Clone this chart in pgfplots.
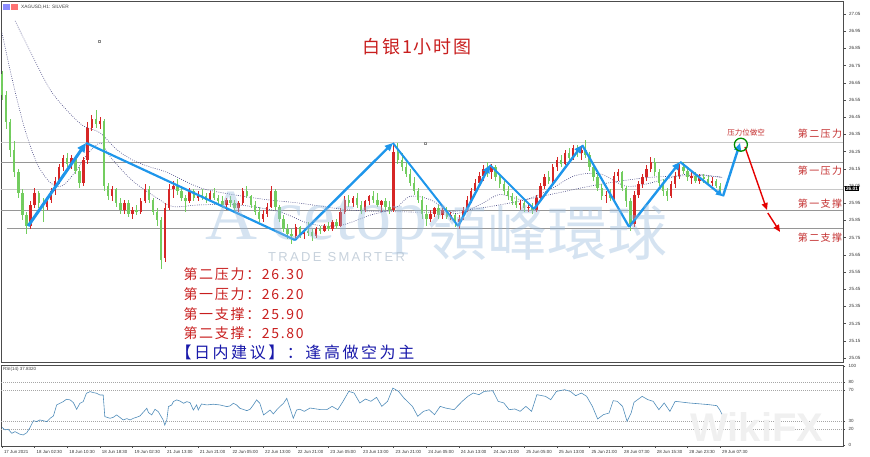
\documentclass[border=0pt]{standalone}
\usepackage{fontspec}
\setmainfont{Liberation Sans}
\newfontfamily\cjk{Noto Sans CJK SC}
\newfontfamily\cjkls[LetterSpace=12]{Noto Sans CJK SC}
\newfontfamily\cjkwide[LetterSpace=16]{Noto Sans CJK SC}
\newfontfamily\cjktitle[LetterSpace=10]{Noto Sans CJK SC}
\newfontfamily\cjkside[LetterSpace=14]{Noto Sans CJK SC}
\newfontfamily\cjktc{Noto Sans CJK TC}
\newfontfamily\wmserif{Liberation Serif}
\newfontfamily\wmsans[LetterSpace=18]{Liberation Sans}
\usepackage{pgfplots}
\usepackage{pgfplotstable}
\pgfplotsset{compat=1.18}
\usetikzlibrary{arrows.meta}

\definecolor{candleup}{RGB}{214,38,38}
\definecolor{candledn}{RGB}{115,205,95}
\definecolor{zig}{RGB}{30,150,235}
\definecolor{lvl}{RGB}{150,150,150}
\definecolor{lvllight}{RGB}{200,200,200}
\definecolor{ma}{RGB}{70,70,130}
\definecolor{rsiline}{RGB}{80,140,185}
\definecolor{txtred}{RGB}{200,30,30}
\definecolor{lblred}{RGB}{195,45,45}
\definecolor{txtblue}{RGB}{25,25,170}
\definecolor{wm}{RGB}{150,185,220}
\definecolor{wmgray}{RGB}{175,190,205}

% hourly silver candles: bar index, open, high, low, close
\pgfplotstableread{
i o h l c
0 26.70 26.72 26.55 26.58
1 26.58 26.60 26.38 26.42
2 26.42 26.44 26.22 26.26
3 26.26 26.31 26.10 26.13
4 26.13 26.15 25.98 26.01
5 26.01 26.03 25.85 25.88
6 25.88 25.90 25.77 25.82
7 25.82 25.96 25.80 25.94
8 25.94 26.04 25.92 26.01
9 26.01 26.02 25.92 25.95
10 25.95 25.98 25.84 25.93
11 25.93 25.99 25.91 25.97
12 25.97 26.04 25.95 26.02
13 26.02 26.10 26.00 26.08
14 26.08 26.18 26.06 26.16
15 26.16 26.23 26.14 26.21
16 26.21 26.24 26.16 26.18
17 26.18 26.23 26.15 26.21
18 26.21 26.22 26.12 26.14
19 26.14 26.16 26.04 26.07
20 26.07 26.22 26.05 26.20
21 26.20 26.42 26.18 26.39
22 26.39 26.46 26.37 26.44
23 26.44 26.49 26.39 26.41
24 26.41 26.45 26.38 26.43
25 26.43 26.44 26.02 26.05
26 26.05 26.07 25.97 25.99
27 25.99 26.05 25.96 26.03
28 26.03 26.04 25.93 25.95
29 25.95 25.98 25.89 25.91
30 25.91 25.97 25.89 25.95
31 25.95 25.97 25.87 25.89
32 25.89 25.93 25.86 25.91
33 25.91 25.94 25.88 25.90
34 25.90 25.98 25.89 25.96
35 25.96 26.06 25.95 26.03
36 26.03 26.05 25.95 25.97
37 25.97 25.98 25.88 25.90
38 25.90 25.92 25.82 25.85
39 25.85 25.87 25.57 25.62
40 25.63 25.95 25.61 25.92
41 25.92 26.06 25.91 26.03
42 26.03 26.08 25.98 26.05
43 26.05 26.09 26.00 26.02
44 26.02 26.05 25.96 25.98
45 25.98 26.00 25.90 25.96
46 25.96 26.04 25.95 26.02
47 26.02 26.03 25.96 25.98
48 25.98 26.02 25.96 26.00
49 26.00 26.03 25.97 25.99
50 25.99 26.01 25.95 25.97
51 25.97 26.02 25.96 26.01
52 26.01 26.04 25.97 25.98
53 25.98 26.00 25.94 25.96
54 25.96 25.99 25.92 25.94
55 25.94 25.98 25.91 25.97
56 25.97 25.99 25.93 25.95
57 25.95 25.97 25.90 25.92
58 25.92 25.96 25.90 25.95
59 25.95 26.04 25.94 26.02
60 26.02 26.05 25.98 25.99
61 25.99 26.00 25.92 25.94
62 25.94 25.96 25.88 25.90
63 25.90 25.93 25.84 25.86
64 25.86 25.91 25.84 25.89
65 25.89 25.95 25.87 25.93
66 25.93 26.05 25.92 26.02
67 26.02 26.03 25.91 25.93
68 25.93 25.94 25.84 25.86
69 25.86 25.88 25.78 25.80
70 25.80 25.83 25.74 25.77
71 25.77 25.80 25.71 25.76
72 25.76 25.83 25.74 25.81
73 25.81 25.82 25.75 25.77
74 25.77 25.80 25.74 25.79
75 25.79 25.84 25.76 25.78
76 25.78 25.80 25.73 25.76
77 25.76 25.81 25.75 25.80
78 25.80 25.82 25.77 25.79
79 25.79 25.83 25.78 25.82
80 25.82 25.84 25.79 25.80
81 25.80 25.85 25.79 25.84
82 25.84 25.86 25.80 25.82
83 25.82 25.92 25.81 25.90
84 25.90 25.99 25.89 25.97
85 25.97 26.00 25.93 25.95
86 25.95 25.99 25.93 25.98
87 25.98 26.01 25.92 25.94
88 25.94 25.96 25.89 25.91
89 25.91 25.97 25.90 25.96
90 25.96 26.00 25.94 25.99
91 25.99 26.02 25.95 25.97
92 25.97 26.01 25.93 25.94
93 25.94 25.97 25.90 25.96
94 25.96 25.98 25.91 25.93
95 25.93 25.96 25.89 25.91
96 25.91 26.29 25.90 26.25
97 26.25 26.30 26.18 26.20
98 26.20 26.24 26.14 26.16
99 26.16 26.19 26.10 26.12
100 26.12 26.15 26.05 26.07
101 26.07 26.10 26.00 26.02
102 26.02 26.04 25.95 25.97
103 25.97 25.99 25.86 25.89
104 25.89 25.94 25.82 25.86
105 25.86 25.91 25.84 25.89
106 25.89 25.93 25.87 25.92
107 25.92 25.94 25.86 25.88
108 25.88 25.92 25.86 25.91
109 25.91 25.93 25.86 25.87
110 25.87 25.90 25.85 25.88
111 25.88 25.89 25.81 25.84
112 25.84 25.88 25.80 25.86
113 25.86 25.93 25.85 25.91
114 25.91 25.99 25.90 25.97
115 25.97 26.04 25.95 26.02
116 26.02 26.09 26.00 26.07
117 26.07 26.13 26.05 26.11
118 26.11 26.17 26.08 26.15
119 26.15 26.19 26.10 26.13
120 26.13 26.18 26.09 26.16
121 26.16 26.17 26.08 26.10
122 26.10 26.12 26.04 26.06
123 26.06 26.08 26.00 26.02
124 26.02 26.05 25.97 25.99
125 25.99 26.01 25.94 25.96
126 25.96 25.99 25.92 25.94
127 25.94 25.97 25.91 25.95
128 25.95 25.97 25.90 25.92
129 25.92 25.95 25.90 25.93
130 25.93 25.95 25.89 25.91
131 25.91 26.00 25.90 25.98
132 25.98 26.07 25.97 26.05
133 26.05 26.12 26.03 26.10
134 26.10 26.14 26.06 26.08
135 26.08 26.18 26.07 26.16
136 26.16 26.22 26.14 26.20
137 26.20 26.23 26.16 26.18
138 26.18 26.26 26.17 26.24
139 26.24 26.27 26.19 26.21
140 26.21 26.29 26.20 26.27
141 26.27 26.29 26.22 26.24
142 26.24 26.28 26.20 26.26
143 26.26 26.32 26.21 26.23
144 26.23 26.25 26.14 26.16
145 26.16 26.18 26.08 26.10
146 26.10 26.12 26.02 26.04
147 26.04 26.06 25.97 25.99
148 25.99 26.02 25.95 26.00
149 26.00 26.03 25.96 25.98
150 25.98 26.13 25.97 26.11
151 26.11 26.15 26.08 26.13
152 26.13 26.14 26.02 26.04
153 26.04 26.05 25.93 25.96
154 25.96 25.98 25.79 25.83
155 25.83 26.02 25.81 26.00
156 26.00 26.08 25.98 26.06
157 26.06 26.12 26.04 26.10
158 26.10 26.17 26.08 26.15
159 26.15 26.22 26.13 26.19
160 26.19 26.21 26.11 26.13
161 26.13 26.15 26.05 26.07
162 26.07 26.09 25.99 26.02
163 26.02 26.04 25.96 25.99
164 25.99 26.08 25.98 26.06
165 26.06 26.13 26.04 26.11
166 26.11 26.18 26.09 26.16
167 26.16 26.19 26.12 26.14
168 26.14 26.16 26.08 26.10
169 26.10 26.13 26.06 26.11
170 26.11 26.13 26.07 26.08
171 26.08 26.12 26.06 26.10
172 26.10 26.12 26.07 26.09
173 26.09 26.11 26.06 26.07
174 26.07 26.10 26.05 26.08
175 26.08 26.09 26.04 26.05
176 26.05 26.07 26.00 26.01
}\candles

% up candles stay at their index, down candles are pushed far right and cut away
\pgfplotsset{
  candle/.style 2 args={only marks, no markers, mark size=0pt, restrict x to domain=-5:300,
    error bars/y dir=both, error bars/y explicit, error bars/error mark=none,
    error bars/error bar style={line width=#2, draw=#1}},
}

\begin{document}
\begin{tikzpicture}[x=1pt,y=1pt]

% ---------------- price panel ----------------
\begin{axis}[
  at={(1pt,95pt)}, anchor=south west, scale only axis,
  width=842pt, height=361pt,
  xmin=-0.245, xmax=206.13, ymin=25.0267, ymax=27.1256,
  axis line style={black!70, line width=0.5pt},
  xtick=\empty,
  ytick={25.05,25.15,25.25,25.35,25.45,25.55,25.65,25.75,25.85,25.95,26.05,26.15,26.25,26.35,26.45,26.55,26.65,26.75,26.85,26.95,27.05},
  ytick pos=right, yticklabel pos=right,
  tick align=outside, major tick length=2.5pt,
  tick style={black!70, line width=0.4pt},
  yticklabel style={font=\fontsize{4.5}{5}\selectfont, text=black!80,
    /pgf/number format/.cd, fixed, fixed zerofill, precision=2, assume math mode=true},
  clip=false,
]
% support / resistance levels
\addplot[lvllight, line width=1pt] coordinates {(-0.245,26.30) (206.13,26.30)};
\addplot[lvl, line width=1pt] coordinates {(-0.245,26.184) (206.13,26.184)};
\addplot[lvllight, line width=0.8pt] coordinates {(-0.245,26.033) (206.13,26.033)};
\addplot[lvl, line width=1pt] coordinates {(-0.245,25.905) (206.13,25.905)};
\addplot[lvl, line width=1pt] coordinates {(1.2,25.80) (206.13,25.80)};

% moving averages
\addplot[ma, line width=0.6pt, dash pattern=on 0.8pt off 1.4pt, smooth] coordinates {
(3.2,27.01) (7.6,26.80) (11.8,26.61) (15.9,26.49) (19.9,26.40) (24,26.36) (28.2,26.26)
(32.1,26.20) (36.3,26.16) (40.4,26.13) (48.5,26.04) (56.6,26.00) (65,25.97) (73,25.95)
(85.3,25.91) (97.5,25.90) (109.8,25.90) (122,25.94) (134.3,26.00) (146.6,26.06)
(158.8,26.10) (171,26.11) (176.5,26.10)};
\addplot[ma, line width=0.6pt, dash pattern=on 0.8pt off 1.4pt, smooth] coordinates {
(0,26.94) (2.7,26.65) (5.6,26.38) (8.6,26.18) (11.8,26.07) (14.7,26.05) (17.9,26.13)
(21.1,26.24) (24.2,26.30) (26.5,26.22) (32,26.08) (38,25.98) (42,25.93) (48.5,25.94)
(58,25.94) (68,25.90) (75.5,25.83) (82.8,25.82) (90.2,25.88) (96.3,25.92) (100,25.99)
(105,25.97) (111,25.89) (117,25.94) (122,26.00) (128,25.97) (134.3,26.03) (140.4,26.11)
(146.6,26.12) (152.7,26.05) (157.6,26.06) (162.5,26.09) (168.6,26.12) (176.5,26.10)};

% candles: wicks then bodies (red = up, green = down)
\addplot[candle={candleup}{0.6pt}] table[x expr={\thisrow{i}+1000*(\thisrow{c}<\thisrow{o})}, y expr={(\thisrow{h}+\thisrow{l})/2}, y error expr={(\thisrow{h}-\thisrow{l})/2}] {\candles};
\addplot[candle={candledn}{0.6pt}] table[x expr={\thisrow{i}+1000*(\thisrow{c}>=\thisrow{o})}, y expr={(\thisrow{h}+\thisrow{l})/2}, y error expr={(\thisrow{h}-\thisrow{l})/2}] {\candles};
\addplot[candle={candleup}{2.4pt}] table[x expr={\thisrow{i}+1000*(\thisrow{c}<\thisrow{o})}, y expr={(\thisrow{o}+\thisrow{c})/2}, y error expr={max(abs(\thisrow{c}-\thisrow{o})/2,0.004)}] {\candles};
\addplot[candle={candledn}{2.4pt}] table[x expr={\thisrow{i}+1000*(\thisrow{c}>=\thisrow{o})}, y expr={(\thisrow{o}+\thisrow{c})/2}, y error expr={max(abs(\thisrow{c}-\thisrow{o})/2,0.004)}] {\candles};

% small object anchors
\addplot[only marks, mark=square, mark size=1.1pt, black!45] coordinates {(103.7,26.30) (23.8,26.89)};

% zigzag trend arrows
\addplot[zig, line width=3pt, -{Triangle[length=9pt,width=8pt]}] coordinates {(6.4,25.817) (20.6,26.30)};
\addplot[zig, line width=2.2pt] coordinates {(20.6,26.30) (71.8,25.736)};
\addplot[zig, line width=2.4pt, -{Triangle[length=8pt,width=7pt]}] coordinates {(71.8,25.736) (95.8,26.30)};
\addplot[zig, line width=2pt] coordinates {(95.8,26.30) (111.8,25.817)};
\addplot[zig, line width=2.4pt, -{Triangle[length=8pt,width=7pt]}] coordinates {(111.8,25.817) (119.6,26.172)};
\addplot[zig, line width=2pt] coordinates {(119.6,26.172) (130.4,25.916)};
\addplot[zig, line width=2.4pt, -{Triangle[length=8pt,width=7pt]}] coordinates {(130.4,25.916) (142.2,26.288)};
\addplot[zig, line width=2.2pt] coordinates {(142.2,26.288) (153.7,25.812)};
\addplot[zig, line width=2.4pt, -{Triangle[length=8pt,width=7pt]}] coordinates {(153.7,25.812) (166.2,26.19)};
\addplot[zig, line width=2.2pt, -{Triangle[length=7pt,width=6pt]}] coordinates {(166.2,26.19) (176.7,25.99)};
\addplot[zig, line width=2.4pt, -{Triangle[length=8pt,width=7pt]}] coordinates {(176.7,25.99) (180.9,26.30)};
% projected move down
\addplot[red!90!black, line width=1.4pt, -{Triangle[length=7pt,width=6pt]}] coordinates {(182.1,26.277) (187.5,25.91)};
\addplot[red!90!black, line width=1.4pt, -{Triangle[length=7pt,width=6pt]}] coordinates {(187.7,25.893) (190.7,25.783)};
\addplot[only marks, mark=o, mark size=6.5pt, mark options={draw=green!55!black, line width=1.3pt}] coordinates {(181.1,26.29)};
\end{axis}

% ---------------- RSI panel ----------------
\begin{axis}[
  at={(1pt,11pt)}, anchor=south west, scale only axis,
  width=842pt, height=81pt,
  xmin=-0.245, xmax=206.13, ymin=-1.3, ymax=101.3,
  axis line style={black!70, line width=0.5pt},
  ytick={0,20,30,70,80,100}, ytick pos=right, yticklabel pos=right,
  xtick={0,8,...,176},
  xticklabels={17 Jun 2021, 18 Jun 02:30, 18 Jun 10:30, 18 Jun 18:30, 19 Jun 02:30,
    21 Jun 13:00, 21 Jun 21:00, 22 Jun 05:00, 22 Jun 13:00, 22 Jun 21:00,
    23 Jun 05:00, 23 Jun 13:00, 23 Jun 21:00, 24 Jun 05:00, 24 Jun 13:00,
    24 Jun 21:00, 25 Jun 05:00, 25 Jun 13:00, 25 Jun 21:00, 28 Jun 07:30,
    28 Jun 15:30, 28 Jun 23:30, 29 Jun 07:30},
  xtick pos=bottom,
  tick align=outside, major tick length=2pt,
  tick style={black!70, line width=0.4pt},
  xticklabel style={font=\fontsize{4.4}{5}\selectfont, text=black!80, anchor=north west, xshift=-1.5pt, yshift=1pt},
  yticklabel style={font=\fontsize{4.5}{5}\selectfont, text=black!80, /pgf/number format/assume math mode=true},
  clip=false,
]
\addplot[black!35, line width=0.4pt, dash pattern=on 1pt off 1pt] coordinates {(-0.245,80) (206.13,80)};
\addplot[black!35, line width=0.4pt, dash pattern=on 1pt off 1pt] coordinates {(-0.245,70) (206.13,70)};
\addplot[black!35, line width=0.4pt, dash pattern=on 1pt off 1pt] coordinates {(-0.245,30) (206.13,30)};
\addplot[black!35, line width=0.4pt, dash pattern=on 1pt off 1pt] coordinates {(-0.245,20) (206.13,20)};
\addplot[rsiline, line width=0.6pt] coordinates {
(0,22.4) (0.7,19.1) (1.5,19.9) (2.4,14.8) (3.2,16.9) (4.4,13.6) (5.2,12.7) (6.1,15.6)
(6.9,22.4) (7.7,30.8) (8.5,29.6) (9.3,31.7) (11,29.6) (11.8,33.8) (12.6,36.7) (13.4,50.7)
(14.2,52.8) (15,54.9) (15.8,57.9) (16.7,57.1) (17.5,53.6) (18.3,45.2) (19.1,52.8) (19.9,54.9)
(20.7,65.5) (21.6,67.6) (22.4,66.3) (23.2,65.5) (24,63.3) (24.8,63.3) (25.2,35.9) (26.5,33.8)
(27.3,35.1) (28.1,38.1) (29.7,31.7) (30.6,33.4) (31.4,31.7) (32.2,33.8) (33,35.1) (33.8,36.7)
(35.5,46.5) (35.9,41) (36.7,38.1) (37.5,45.2) (38.3,42.2) (39.5,31.7) (39.9,25.3) (40.4,31.7)
(40.8,48.6) (41.6,50.7) (42,54.9) (42.8,57.1) (43.6,55.7) (44.5,52.8) (45.3,54.9) (46.1,53.6)
(46.9,44.3) (47.7,50.7) (48.1,44.3) (48.9,51.9) (50.2,50.7) (51.8,51.6) (53.4,50.7) (55.1,48.6)
(55.9,49.5) (56.7,52.8) (57.5,50.7) (58.3,46.5) (60,43.5) (60.8,45.2) (61.6,50.7) (62.4,57.1)
(63.2,52.8) (64.1,38.1) (64.9,41) (65.7,44.3) (66.5,39.3) (67.3,44.3) (68.1,48.6) (69,52.8)
(69.8,59.1) (70.6,46.5) (71.4,33.8) (72.2,44.3) (73,45.2) (74.1,42.6) (75.5,46.8) (78.2,44.7)
(79.6,44.7) (80.9,48.9) (82.3,44.7) (83.6,55.3) (85,67.9) (86.3,65.8) (87.7,53.2) (89.1,58.2)
(90.4,55.3) (91.8,60.3) (93.1,48.9) (94.5,55.3) (95.8,72.1) (97.2,67.9) (98.5,59.5) (100.6,48.9)
(101.9,36.3) (103.3,42.6) (104.7,44.7) (106,38.4) (107.4,48.9) (108.7,46.8) (110.8,44.7) (112.8,55.3)
(114.2,61.6) (115.5,65.8) (116.9,63.7) (118.2,67.9) (120.3,68.7) (121.6,55.3) (123,53.2) (124.3,44.7)
(125.7,45.6) (127,42.6) (128.4,48.9) (129.8,42.6) (131.1,63.7) (133.2,61.6) (134.5,57.4) (135.9,67.9)
(137.9,70) (139.3,67.9) (140.6,62.4) (142,65.8) (143.3,61.6) (144.7,48.9) (146,32.9) (147.4,38.4)
(148.8,40.5) (149.8,56.1) (150.8,55.3) (152.1,48.9) (153.2,30) (154.2,40.5) (154.9,54) (156.9,61.6)
(158.3,57.4) (159.6,55.3) (161,44.7) (162.3,53.2) (163.7,42.6) (165,55.3) (167.1,54) (168.4,53.2)
(170.5,52.3) (173.2,51.1) (175.2,49.8) (175.9,44.7) (176.6,37.8)};
\end{axis}

% ---------------- texts ----------------
\fill[blue!45] (3,447) rectangle (9.5,453);
\fill[red!55] (11,447) rectangle (17.5,453);
\node[anchor=west, font=\fontsize{4.8}{5}\selectfont, text=black!75, inner sep=0] at (21,450) {XAGUSD,H1: SILVER};
\node[anchor=west, font=\fontsize{4.5}{5}\selectfont, text=black!75, inner sep=0] at (3,88) {RSI(14) 37.8320};
\node[anchor=west, fill=black, text=white, font=\fontsize{4.8}{5}\selectfont\bfseries, inner sep=0.8pt] at (845,268) {26.01};

\node[text=txtred, font=\cjktitle\fontsize{18}{18}\selectfont] at (417,410) {白银1小时图};

\node[text=lblred, font=\cjkside\fontsize{10}{10}\selectfont] at (820,323) {第二压力};
\node[text=lblred, font=\cjkside\fontsize{10}{10}\selectfont] at (820,286) {第一压力};
\node[text=lblred, font=\cjkside\fontsize{10}{10}\selectfont] at (820,253) {第一支撑};
\node[text=lblred, font=\cjkside\fontsize{10}{10}\selectfont] at (820,219) {第二支撑};
\node[text=lblred, font=\cjk\fontsize{7.5}{8}\selectfont] at (746,324) {压力位做空};

\node[anchor=west, text=txtred, font=\cjkls\fontsize{14}{14}\selectfont] at (180,183) {第二压力：26.30};
\node[anchor=west, text=txtred, font=\cjkls\fontsize{14}{14}\selectfont] at (180,163) {第一压力：26.20};
\node[anchor=west, text=txtred, font=\cjkls\fontsize{14}{14}\selectfont] at (180,143) {第一支撑：25.90};
\node[anchor=west, text=txtred, font=\cjkls\fontsize{14}{14}\selectfont] at (180,124) {第二支撑：25.80};
\node[anchor=west, text=txtblue, font=\cjkwide\fontsize{16}{16}\selectfont] at (172,105) {【日内建议】：逢高做空为主};

% watermarks
\node[anchor=base west, text=wm, opacity=0.4, inner sep=0, font=\wmserif\fontsize{72}{72}\selectfont] at (205,217) {A\hspace{14pt}cetop};
\node[anchor=west, text=wm, opacity=0.4, inner sep=0, font=\cjktc\fontsize{60}{60}\selectfont] at (427,224) {領峰環球};
\node[anchor=west, text=wmgray, opacity=0.7, inner sep=0, font=\wmsans\fontsize{13}{13}\selectfont] at (268,200) {TRADE SMARTER};
\node[anchor=west, text=black!6, inner sep=0, font=\bfseries\fontsize{40}{40}\selectfont] at (690,30) {WikiFX};

\pgfresetboundingbox
\path (0,0) rectangle (870,457);
\end{tikzpicture}
\end{document}
